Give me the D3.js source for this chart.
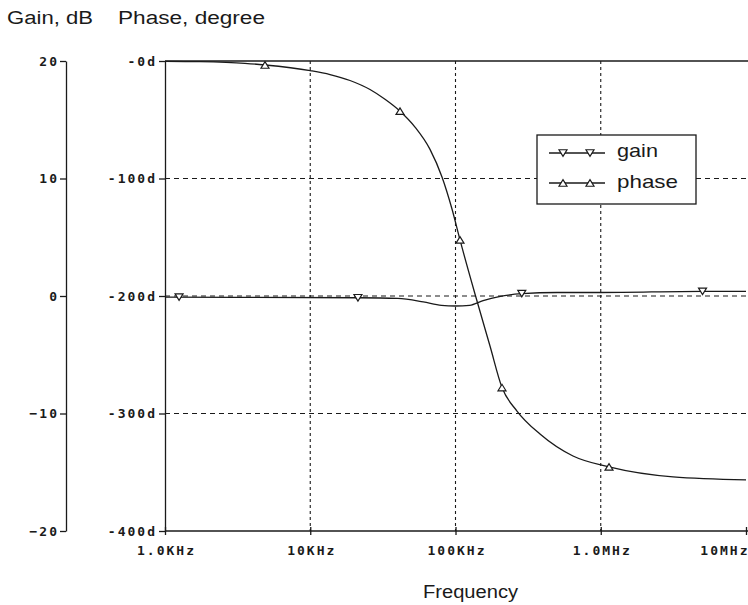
<!DOCTYPE html>
<html>
<head>
<meta charset="utf-8">
<script src="https://cdn.jsdelivr.net/npm/d3@7"></script>
<style>
  html, body { margin: 0; padding: 0; background: #fff; }
  svg { display: block; }
  .tick text, .mono { font-family: "DejaVu Sans Mono", "Liberation Mono", monospace; font-weight: bold; font-size: 13px; letter-spacing: 2px; fill: #1a1a1a; font-variant-numeric: slashed-zero; }
  .sans { font-family: "Liberation Sans", Arial, sans-serif; fill: #1a1a1a; }
</style>
</head>
<body>
<svg id="chart" width="748" height="605"></svg>
<script>
// Frequency response: gain (dB) and phase (degrees) versus frequency (Hz)
const freqTicks = [1e3, 1e4, 1e5, 1e6, 1e7];
const freqTickLabels = ["1.0KHz", "10KHz", "100KHz", "1.0MHz", "10MHz"];
const gainTicks = [20, 10, 0, -10, -20];
const phaseTicks = [0, -100, -200, -300, -400];

const gainFreq = [1e3, 2.13e4, 4e4, 6e4, 8e4, 1e5, 1.25e5, 1.55e5, 2e5, 2.86e5, 5e5, 1e6, 5e6, 1e7];
const gainDb   = [-0.1, -0.15, -0.2, -0.5, -0.8, -0.85, -0.8, -0.4, -0.05, 0.2, 0.3, 0.3, 0.4, 0.4];

const phaseFreq = [1e3, 1.74e3, 3.55e3, 4.88e3, 1e4, 1.368e4, 1.878e4, 2.579e4, 3.271e4, 4.149e4, 5.263e4, 6.676e4, 8.073e4, 9.46e4, 1.074e5, 1.362e5, 1.728e5, 2.09e5, 2.65e5, 3.817e5, 6.44e5, 1.14e6, 3.144e6, 1e7];
const phaseDeg  = [-0.3, -0.6, -2, -3.4, -8.2, -11.5, -16.6, -24.3, -32.6, -42.7, -56.2, -75.2, -98.7, -126, -152.3, -198.3, -242.6, -277.9, -297.9, -317.5, -336.2, -345.5, -354, -356.5];

const gainMarkFreq = [1.25e3, 2.13e4, 2.86e5, 5.02e6];
const gainMarkDb   = [-0.1, -0.15, 0.2, 0.4];
const phaseMarkFreq = [4.88e3, 4.149e4, 1.074e5, 2.09e5, 1.14e6];
const phaseMarkDeg  = [-3.4, -42.7, -152.3, -277.9, -345.5];

const seriesNames = ["gain", "phase"];

const svg = d3.select("#chart");
const ink = "#1a1a1a";

const plotL = 165, plotR = 746, plotT = 61, plotB = 531, edgeR = 748;
const x = d3.scaleLog().domain([1e3, 1e7]).range([plotL, plotR]);
const yGain = d3.scaleLinear().domain([-20, 20]).range([plotB, plotT]);
const yPhase = d3.scaleLinear().domain([-400, 0]).range([plotB, plotT]);

// grid
const grid = svg.append("g");
grid.selectAll("line.h").data(phaseTicks.slice(1, -1)).join("line")
  .attr("x1", plotL).attr("x2", edgeR)
  .attr("y1", d => yPhase(d)).attr("y2", d => yPhase(d))
  .attr("stroke", ink).attr("stroke-width", 1.1).attr("stroke-dasharray", "5,4");
grid.selectAll("line.v").data(freqTicks.slice(1, -1)).join("line")
  .attr("x1", d => x(d)).attr("x2", d => x(d))
  .attr("y1", plotT).attr("y2", plotB)
  .attr("stroke", ink).attr("stroke-width", 1.1).attr("stroke-dasharray", "3,3");

// frame lines along top and bottom
svg.append("line").attr("x1", plotL).attr("x2", edgeR).attr("y1", plotT).attr("y2", plotT)
  .attr("stroke", ink).attr("stroke-width", 1.3);
svg.append("line").attr("x1", plotL).attr("x2", edgeR).attr("y1", plotB).attr("y2", plotB)
  .attr("stroke", ink).attr("stroke-width", 1.3);

// axes
const gainAxis = svg.append("g").attr("transform", "translate(66,0)")
  .call(d3.axisLeft(yGain).tickValues(gainTicks).tickFormat(d3.format("d"))
    .tickSize(6).tickSizeOuter(0).tickPadding(1));
const phaseAxis = svg.append("g").attr("transform", `translate(${plotL},0)`)
  .call(d3.axisLeft(yPhase).tickValues(phaseTicks).tickFormat(d => "-" + Math.abs(d) + "d")
    .tickSize(6).tickSizeOuter(0).tickPadding(2));
const freqAxis = svg.append("g").attr("transform", `translate(0,${plotB})`)
  .call(d3.axisBottom(x).tickValues(freqTicks).tickFormat((d, i) => freqTickLabels[i])
    .tickSize(4).tickSizeOuter(0).tickPadding(11));
freqAxis.select(".domain").remove();
freqAxis.selectAll(".tick line").attr("y1", -4);
[gainAxis, phaseAxis, freqAxis].forEach(g => {
  g.selectAll(".domain, .tick line").attr("stroke", ink).attr("stroke-width", 1.3);
  g.selectAll(".tick text").attr("font-size", null).attr("font-family", null);
});
freqAxis.selectAll(".tick text").attr("dx", "1");
// the last frequency label sits against the right edge
freqAxis.selectAll(".tick text").filter(d => d === freqTicks[freqTicks.length - 1])
  .attr("text-anchor", "end").attr("dx", edgeR - x(freqTicks[freqTicks.length - 1]) + 1);

// curves
const gainPts = gainFreq.map((f, i) => [x(f), yGain(gainDb[i])]);
const phasePts = phaseFreq.map((f, i) => [x(f), yPhase(phaseDeg[i])]);
const line = d3.line().curve(d3.curveMonotoneX);
svg.append("path").attr("d", line(gainPts)).attr("fill", "none")
  .attr("stroke", ink).attr("stroke-width", 1.3);
svg.append("path").attr("d", line(phasePts)).attr("fill", "none")
  .attr("stroke", ink).attr("stroke-width", 1.3);

// triangle markers
const tri = (cx, cy, down) => {
  const w = 4, h = 6.5;
  return down
    ? `M${cx - w},${cy - h / 2}L${cx + w},${cy - h / 2}L${cx},${cy + h / 2}Z`
    : `M${cx - w},${cy + h / 2}L${cx + w},${cy + h / 2}L${cx},${cy - h / 2}Z`;
};
svg.selectAll("path.gm").data(gainMarkFreq).join("path")
  .attr("d", (f, i) => tri(x(f), yGain(gainMarkDb[i]), true))
  .attr("fill", "#fff").attr("stroke", ink).attr("stroke-width", 1.2);
svg.selectAll("path.pm").data(phaseMarkFreq).join("path")
  .attr("d", (f, i) => tri(x(f), yPhase(phaseMarkDeg[i]), false))
  .attr("fill", "#fff").attr("stroke", ink).attr("stroke-width", 1.2);

// legend
const lg = svg.append("g");
lg.append("rect").attr("x", 537).attr("y", 135).attr("width", 159).attr("height", 69)
  .attr("fill", "#fff").attr("stroke", ink).attr("stroke-width", 1.3);
seriesNames.forEach((name, i) => {
  const ly = 153 + i * 30;
  lg.append("line").attr("x1", 549).attr("x2", 605).attr("y1", ly).attr("y2", ly)
    .attr("stroke", ink).attr("stroke-width", 1.3);
  [563, 590].forEach(mx => lg.append("path").attr("d", tri(mx, ly, i === 0))
    .attr("fill", "#fff").attr("stroke", ink).attr("stroke-width", 1.2));
  lg.append("text").attr("class", "sans").attr("x", 617).attr("y", ly + 4 + i * 1)
    .attr("font-size", 19).attr("textLength", i === 0 ? 41 : 61)
    .attr("lengthAdjust", "spacingAndGlyphs").text(name);
});

// axis titles
svg.append("text").attr("class", "sans").attr("x", 7).attr("y", 24).attr("font-size", 18)
  .attr("textLength", 86).attr("lengthAdjust", "spacingAndGlyphs").text("Gain, dB");
svg.append("text").attr("class", "sans").attr("x", 118).attr("y", 24).attr("font-size", 18)
  .attr("textLength", 147).attr("lengthAdjust", "spacingAndGlyphs").text("Phase, degree");
svg.append("text").attr("class", "sans").attr("x", 423).attr("y", 598).attr("font-size", 18)
  .attr("textLength", 95).attr("lengthAdjust", "spacingAndGlyphs").text("Frequency");
</script>
</body>
</html>
